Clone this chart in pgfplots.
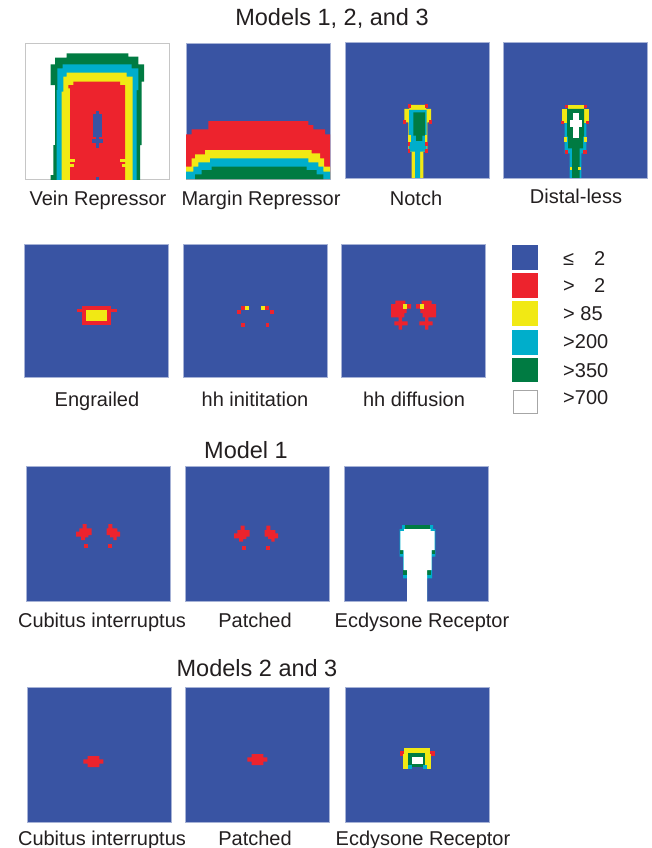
\documentclass[border=0pt]{standalone}
\usepackage{pgfplots}
\pgfplotsset{compat=1.18}
\usepackage{fontspec}
\setmainfont{Liberation Sans}
\definecolor{cblue}{RGB}{57,84,163}
\definecolor{cred}{RGB}{237,35,45}
\definecolor{cyel}{RGB}{241,233,20}
\definecolor{ccyan}{RGB}{0,174,203}
\definecolor{cgreen}{RGB}{0,123,66}
\definecolor{ctext}{RGB}{35,31,32}
\newcommand{\rect}[5]{\addplot[fill=#1,draw=none] coordinates {(#2,#3) (#4,#3) (#4,#5) (#2,#5)};}
\newcommand{\crosses}{%
\addplot[fill=cred,draw=none] coordinates {(188,192)(200,192)(200,205)(215,205)(215,225)(205,225)(205,232)(195,232)(195,240)(183,240)(183,230)(168,230)(168,215)(178,215)(178,205)(188,205)};
\addplot[fill=cred,draw=none] coordinates {(265,192)(277,192)(277,205)(292,205)(292,215)(300,215)(300,230)(290,230)(290,240)(280,240)(280,232)(270,232)(270,225)(260,225)(260,205)(265,205)};
\rect{cred}{193}{252}{205}{265}
\rect{cred}{265}{252}{277}{265}
}
\newcommand{\blob}{%
\addplot[fill=cred,draw=none] coordinates {(215,222)(250,222)(250,232)(262,232)(262,245)(250,245)(250,255)(215,255)(215,245)(202,245)(202,232)(215,232)};
}
\pgfplotsset{pan/.style={width=144pt,height=136pt,scale only axis,anchor=north west,ticks=none,
  enlargelimits=false,y dir=reverse,axis background/.style={fill=cblue},
  axis line style={draw=cblue!45!white,line width=0.5pt}}}
\newcommand{\lab}{\fontsize{20}{24}\selectfont}
\newcommand{\head}{\fontsize{23.5}{28}\selectfont}
\begin{document}
\begin{tikzpicture}
\useasboundingbox (0pt,0pt) rectangle (652pt,-848pt);
\fill[white] (0pt,0pt) rectangle (652pt,-848pt);
% ---------- Row 1 ----------
\begin{axis}[pan,at={(25pt,-43pt)},xmin=15,xmax=447,ymin=24,ymax=432,
  axis background/.style={fill=white},axis line style={draw=gray!45,line width=0.9pt}]
\addplot[fill=cgreen,draw=none] coordinates {(140,55)(325,55)(325,65)(355,65)(355,88)(372,88)(372,140)(365,140)(365,330)(360,330)(360,440)(92,440)(92,420)(100,420)(100,330)(105,330)(105,150)(92,150)(92,88)(105,88)(105,68)(140,68)};
\addplot[fill=ccyan,draw=none] coordinates {(128,88)(335,88)(335,100)(355,100)(355,165)(350,165)(350,440)(110,440)(110,165)(112,165)(112,100)(128,100)};
\addplot[fill=cyel,draw=none] coordinates {(140,113)(320,113)(320,125)(338,125)(338,440)(125,440)(125,170)(130,170)(130,125)(140,125)};
\addplot[fill=cred,draw=none] coordinates {(160,140)(300,140)(300,150)(315,150)(315,440)(150,440)(150,160)(145,160)(145,150)(160,150)};
\rect{cyel}{150}{372}{165}{380}
\rect{cyel}{150}{387}{162}{395}
\rect{cyel}{300}{372}{318}{380}
\rect{cyel}{305}{387}{318}{395}
\rect{cblue}{218}{238}{245}{305}
\rect{cblue}{228}{228}{236}{340}
\rect{cblue}{215}{313}{250}{323}
\rect{cblue}{228}{425}{236}{440}
\end{axis}
\begin{axis}[pan,at={(186pt,-43pt)},xmin=18,xmax=450,ymin=24,ymax=432]
\addplot[fill=cred,draw=none] coordinates {(18,298)(35,298)(35,283)(85,283)(85,258)(385,258)(385,270)(400,270)(400,283)(435,283)(435,298)(450,298)(450,432)(18,432)};
\addplot[fill=cyel,draw=none] coordinates {(18,395)(35,395)(35,370)(45,370)(45,358)(75,358)(75,345)(395,345)(395,355)(420,355)(420,370)(432,370)(432,395)(450,395)(450,432)(18,432)};
\addplot[fill=ccyan,draw=none] coordinates {(18,410)(40,410)(40,395)(55,395)(55,382)(90,382)(90,370)(385,370)(385,382)(415,382)(415,395)(430,395)(430,410)(450,410)(450,432)(18,432)};
\addplot[fill=cgreen,draw=none] coordinates {(45,432)(45,418)(65,418)(65,405)(95,405)(95,395)(380,395)(380,405)(410,405)(410,418)(430,418)(430,432)};
\end{axis}
\begin{axis}[pan,at={(345pt,-42pt)},xmin=15,xmax=447,ymin=21,ymax=429]
\addplot[fill=cyel,draw=none] coordinates {(208,210)(258,210)(258,222)(273,222)(273,262)(262,262)(262,350)(250,350)(250,432)(215,432)(215,350)(205,350)(205,262)(193,262)(193,222)(208,222)};
\addplot[fill=ccyan,draw=none] coordinates {(207,225)(260,225)(260,350)(240,350)(240,432)(225,432)(225,350)(207,350)};
\addplot[fill=cgreen,draw=none] coordinates {(220,232)(255,232)(255,302)(247,302)(247,318)(228,318)(228,302)(220,302)};
\rect{cyel}{205}{300}{213}{320}
\rect{cyel}{255}{300}{262}{320}
\rect{cred}{203}{208}{212}{220}
\rect{cred}{255}{208}{264}{220}
\rect{cred}{190}{256}{199}{268}
\rect{cred}{268}{256}{277}{268}
\rect{cred}{203}{320}{211}{332}
\rect{cred}{256}{320}{264}{332}
\rect{cred}{203}{343}{211}{355}
\rect{cred}{256}{343}{264}{355}
\end{axis}
\begin{axis}[pan,at={(503pt,-42pt)},xmin=15,xmax=447,ymin=21,ymax=429]
\addplot[fill=ccyan,draw=none] coordinates {(200,222)(265,222)(265,355)(250,355)(250,432)(215,432)(215,355)(200,355)};
\rect{cyel}{210}{210}{258}{222}
\rect{cyel}{193}{222}{207}{265}
\rect{cyel}{258}{222}{272}{265}
\addplot[fill=cgreen,draw=none] coordinates {(207,222)(258,222)(258,305)(255,305)(255,340)(245,340)(245,432)(222,432)(222,340)(210,340)(210,305)(207,305)};
\rect{cyel}{198}{305}{207}{320}
\rect{cyel}{258}{305}{266}{320}
\rect{cyel}{215}{395}{222}{405}
\rect{cyel}{240}{395}{248}{405}
\rect{white}{225}{235}{242}{310}
\rect{white}{215}{255}{252}{275}
\rect{cred}{200}{210}{210}{220}
\rect{cred}{258}{210}{266}{220}
\rect{cred}{188}{258}{197}{268}
\rect{cred}{265}{258}{274}{268}
\rect{cred}{200}{345}{210}{357}
\rect{cred}{256}{345}{266}{357}
\end{axis}
\node[font=\head,text=ctext,anchor=base] at (332pt,-25.5pt) {Models 1, 2, and 3};
\node[font=\lab,text=ctext,anchor=base] at (98pt,-205pt) {Vein Repressor};
\node[font=\lab,text=ctext,anchor=base] at (261pt,-205pt) {Margin Repressor};
\node[font=\lab,text=ctext,anchor=base] at (416pt,-205pt) {Notch};
\node[font=\lab,text=ctext,anchor=base] at (576pt,-203pt) {Distal-less};
% ---------- Row 2 ----------
\begin{axis}[pan,height=133pt,at={(24pt,-244pt)},xmin=12,xmax=444,ymin=18,ymax=417]
\rect{cred}{185}{203}{272}{262}
\rect{cred}{172}{212}{290}{222}
\rect{cyel}{198}{215}{260}{250}
\end{axis}
\begin{axis}[pan,height=133pt,at={(183pt,-244pt)},xmin=15,xmax=447,ymin=18,ymax=417]
\rect{cred}{190}{203}{200}{215}
\rect{cred}{178}{217}{188}{228}
\rect{cred}{190}{255}{200}{266}
\rect{cred}{262}{203}{272}{215}
\rect{cred}{277}{217}{287}{228}
\rect{cred}{263}{255}{273}{266}
\rect{cyel}{200}{203}{212}{215}
\rect{cyel}{250}{203}{262}{215}
\end{axis}
\begin{axis}[pan,height=133pt,at={(341pt,-244pt)},xmin=15,xmax=447,ymin=18,ymax=417]
\addplot[fill=cred,draw=none] coordinates {(178,188)(208,188)(208,198)(225,198)(225,212)(212,212)(212,225)(205,225)(205,238)(198,238)(198,250)(215,250)(215,262)(198,262)(198,275)(188,275)(188,262)(175,262)(175,250)(188,250)(188,238)(165,238)(165,198)(178,198)};
\addplot[fill=cred,draw=none] coordinates {(287,188)(257,188)(257,198)(240,198)(240,212)(253,212)(253,225)(260,225)(260,238)(267,238)(267,250)(250,250)(250,262)(267,262)(267,275)(277,275)(277,262)(290,262)(290,250)(277,250)(277,238)(300,238)(300,198)(287,198)};
\rect{cyel}{200}{198}{214}{212}
\rect{cyel}{251}{198}{265}{212}
\end{axis}
\node[font=\lab,text=ctext,anchor=base] at (97pt,-406pt) {Engrailed};
\node[font=\lab,text=ctext,anchor=base] at (255pt,-406pt) {hh inititation};
\node[font=\lab,text=ctext,anchor=base] at (414pt,-406pt) {hh diffusion};
% legend
\fill[cblue] (512pt,-245pt) rectangle (538pt,-270pt);
\fill[cred] (512pt,-273pt) rectangle (538pt,-298pt);
\fill[cyel] (512pt,-301pt) rectangle (538pt,-326pt);
\fill[ccyan] (512pt,-330pt) rectangle (538pt,-355pt);
\fill[cgreen] (512pt,-358pt) rectangle (538pt,-382pt);
\draw[gray!70,line width=1pt] (513pt,-390pt) rectangle (537pt,-413pt);
\node[font=\lab,text=ctext,anchor=base west,inner sep=0pt] at (563pt,-265.5pt) {≤};
\node[font=\lab,text=ctext,anchor=base west,inner sep=0pt] at (594pt,-265.5pt) {2};
\node[font=\lab,text=ctext,anchor=base west,inner sep=0pt] at (563pt,-292.5pt) {>};
\node[font=\lab,text=ctext,anchor=base west,inner sep=0pt] at (594pt,-292.5pt) {2};
\node[font=\lab,text=ctext,anchor=base west,inner sep=0pt] at (563pt,-320pt) {> 85};
\node[font=\lab,text=ctext,anchor=base west,inner sep=0pt] at (563pt,-348pt) {>200};
\node[font=\lab,text=ctext,anchor=base west,inner sep=0pt] at (563pt,-377pt) {>350};
\node[font=\lab,text=ctext,anchor=base west,inner sep=0pt] at (563pt,-404pt) {>700};
% ---------- Row 3 ----------
\node[font=\head,text=ctext,anchor=base] at (246pt,-458.5pt) {Model 1};
\begin{axis}[pan,height=135pt,at={(26pt,-466pt)},xmin=18,xmax=450,ymin=18,ymax=423]
\crosses
\end{axis}
\begin{axis}[pan,height=135pt,at={(185pt,-466pt)},xmin=21,xmax=453,ymin=13,ymax=418]
\crosses
\end{axis}
\begin{axis}[pan,height=135pt,at={(344pt,-466pt)},xmin=18,xmax=450,ymin=18,ymax=423]
\addplot[fill=ccyan,draw=none] coordinates {(192,195)(285,195)(285,207)(292,207)(292,290)(282,290)(282,355)(267,355)(267,432)(207,432)(207,355)(195,355)(195,290)(185,290)(185,207)(192,207)};
\rect{cgreen}{200}{195}{275}{207}
\rect{cgreen}{185}{270}{195}{282}
\rect{cgreen}{282}{270}{292}{282}
\rect{cgreen}{195}{330}{207}{345}
\rect{cgreen}{267}{330}{280}{345}
\addplot[fill=white,draw=none] coordinates {(198,207)(278,207)(278,213)(290,213)(290,270)(281,270)(281,330)(267,330)(267,432)(207,432)(207,330)(197,330)(197,270)(187,270)(187,213)(198,213)};
\end{axis}
\node[font=\lab,text=ctext,anchor=base] at (102pt,-627pt) {Cubitus interruptus};
\node[font=\lab,text=ctext,anchor=base] at (255pt,-627pt) {Patched};
\node[font=\lab,text=ctext,anchor=base] at (422pt,-627pt) {Ecdysone Receptor};
% ---------- Row 4 ----------
\node[font=\head,text=ctext,anchor=base] at (257pt,-676.5pt) {Models 2 and 3};
\begin{axis}[pan,height=135pt,at={(27pt,-687pt)},xmin=33,xmax=465,ymin=15,ymax=420]
\blob
\end{axis}
\begin{axis}[pan,height=135pt,at={(185pt,-687pt)},xmin=15,xmax=447,ymin=21,ymax=426]
\blob
\end{axis}
\begin{axis}[pan,height=135pt,at={(345pt,-687pt)},xmin=495,xmax=927,ymin=21,ymax=426]
\rect{cred}{660}{212}{675}{228}
\rect{cred}{748}{212}{765}{228}
\rect{cyel}{672}{205}{750}{222}
\rect{cyel}{668}{222}{685}{268}
\rect{cyel}{735}{222}{752}{268}
\rect{cgreen}{685}{220}{735}{262}
\rect{white}{695}{232}{730}{252}
\rect{ccyan}{685}{255}{695}{268}
\rect{ccyan}{730}{255}{740}{268}
\end{axis}
\node[font=\lab,text=ctext,anchor=base] at (102pt,-845pt) {Cubitus interruptus};
\node[font=\lab,text=ctext,anchor=base] at (255pt,-845pt) {Patched};
\node[font=\lab,text=ctext,anchor=base] at (423pt,-845pt) {Ecdysone Receptor};
\end{tikzpicture}
\end{document}
